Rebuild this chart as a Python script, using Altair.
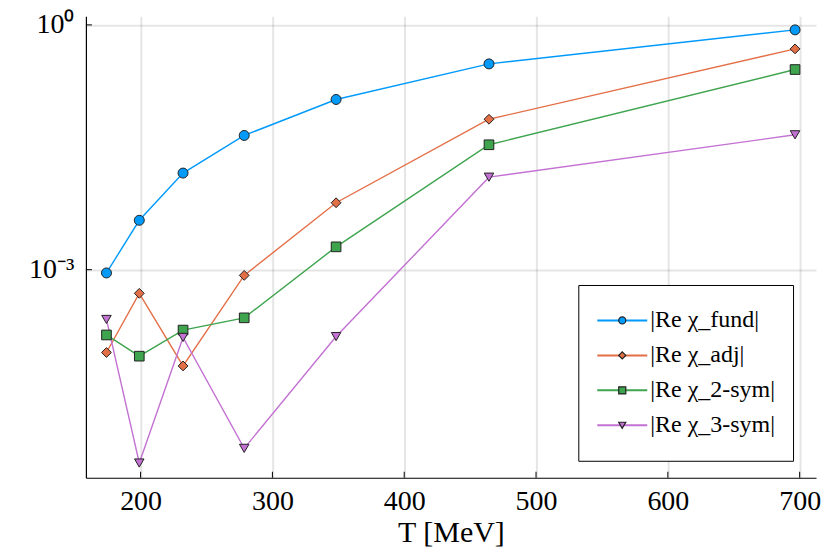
import altair as alt
import pandas as pd

# Temperatures (MeV)
T_vals = [174.1, 199.0, 232.2, 278.6, 348.3, 464.3, 696.5]
series_names = ["|Re χ_fund|", "|Re χ_adj|", "|Re χ_2-sym|", "|Re χ_3-sym|"]
fund_vals = [9.12e-4, 4.03e-3, 1.528e-2, 4.416e-2, 0.1219, 0.3327, 0.869]
adj_vals = [9.66e-5, 5.13e-4, 6.61e-5, 8.51e-4, 6.61e-3, 0.0698, 0.508]
sym2_vals = [1.585e-4, 8.71e-5, 1.82e-4, 2.57e-4, 1.905e-3, 0.03396, 0.2838]
sym3_vals = [2.455e-4, 4.27e-6, 1.479e-4, 6.46e-6, 1.514e-4, 0.01361, 0.04498]

x_ticks = [200, 300, 400, 500, 600, 700]
y_ticks = [1e-3, 1.0]

colors = ["#009afa", "#e36f47", "#3ea44e", "#c371d2"]
shapes = ["circle", "diamond", "square", "triangle-down"]
sizes = [100, 90, 121, 144]

rows = []
for name, vals in zip(series_names, [fund_vals, adj_vals, sym2_vals, sym3_vals]):
    for t, v in zip(T_vals, vals):
        rows.append({"T": t, "val": v, "series": name})
df = pd.DataFrame(rows)

W, H = 731, 462
FONT = "Liberation Serif"

x_axis = alt.Axis(
    values=x_ticks, title="T [MeV]", ticks=False, labelPadding=10,
    labelFontSize=28, titleFontSize=30, titlePadding=2,
)
y_axis = alt.Axis(
    values=y_ticks, title=None, ticks=False, labelPadding=12,
    labelFontSize=28, labelExpr="datum.value == 1 ? '10⁰' : '10⁻³'",
    minExtent=78, maxExtent=78,
)
x_enc = alt.X("T:Q", scale=alt.Scale(domain=[158.5, 712.4], nice=False, zero=False), axis=x_axis)
y_enc = alt.Y("val:Q", scale=alt.Scale(type="log", domain=[2.818e-6, 1.274], nice=False), axis=y_axis)

LX, LY = 493, 269
common_leg = dict(
    orient="none", legendY=LY, title=None, labelFont=FONT, labelFontSize=24,
    labelColor="black", padding=18, clipHeight=35, rowPadding=0,
)

lines = alt.Chart(df).mark_line(strokeWidth=1.4).encode(
    x=x_enc, y=y_enc,
    color=alt.Color(
        "series:N",
        scale=alt.Scale(domain=series_names, range=colors),
        legend=alt.Legend(
            legendX=LX, symbolType="stroke", symbolSize=2500, symbolStrokeWidth=2,
            labelOffset=2, strokeColor="black", fillColor="white",
            zindex=1, **common_leg,
        ),
    ),
    order="T:Q",
)

pt_leg = alt.Legend(
    legendX=LX + 14, symbolSize=50, symbolStrokeWidth=1.2, symbolStrokeColor="#222",
    labelExpr="''", labelOffset=0, zindex=2, **common_leg,
)
points = alt.Chart(df).mark_point(filled=True, opacity=1, stroke="#222", strokeWidth=1).encode(
    x=x_enc, y=y_enc,
    color=alt.Color("series:N", scale=alt.Scale(domain=series_names, range=colors), legend=pt_leg),
    shape=alt.Shape("series:N", scale=alt.Scale(domain=series_names, range=shapes), legend=pt_leg),
    size=alt.Size("series:N", scale=alt.Scale(domain=series_names, range=sizes), legend=None),
)

xt = alt.Chart(pd.DataFrame({"T": x_ticks})).mark_rule(color="black", strokeWidth=1).encode(
    x=x_enc, y=alt.value(H), y2=alt.value(H - 6)
)
yt = alt.Chart(pd.DataFrame({"val": y_ticks})).mark_rule(color="black", strokeWidth=1).encode(
    y=y_enc, x=alt.value(0), x2=alt.value(6)
)

chart = alt.layer(lines, points, xt, yt).resolve_scale(
    color="independent", shape="independent"
).properties(
    width=W, height=H, padding={"left": 0, "top": 2, "right": 5, "bottom": 0},
    background="white",
).configure_view(stroke=None).configure_axis(
    labelFont=FONT, titleFont=FONT, labelColor="black", titleColor="black",
    titleFontWeight="normal", domainColor="black", domainWidth=1.2,
    grid=True, gridColor="black", gridOpacity=0.1, gridWidth=2,
)

chart.save("out.html", embed_options={"renderer": "svg", "actions": False})
